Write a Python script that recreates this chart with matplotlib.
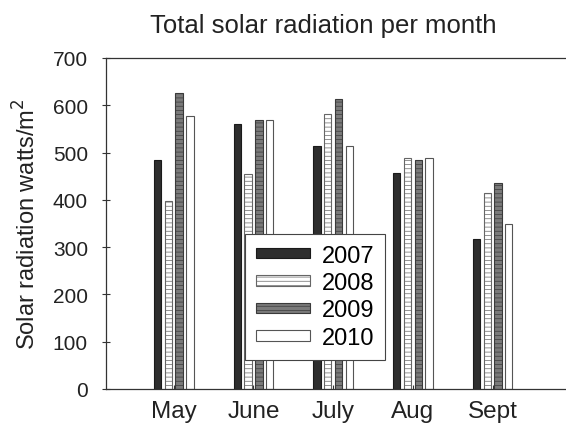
import matplotlib
matplotlib.use("Agg")
import matplotlib.pyplot as plt
import numpy as np

plt.rcParams['font.family'] = ['Liberation Sans', 'DejaVu Sans']
plt.rcParams['hatch.linewidth'] = 0.5

months = ["May", "June", "July", "Aug", "Sept"]
years = ["2007", "2008", "2009", "2010"]
r2007 = [484, 561, 513, 456, 317]
r2008 = [398, 455, 581, 488, 414]
r2009 = [627, 569, 614, 484, 435]
r2010 = [577, 569, 514, 488, 350]
yticks = [0, 100, 200, 300, 400, 500, 600, 700]

series = [r2007, r2008, r2009, r2010]
faces = ["#2e2e2e", "white", "#7a7a7a", "white"]
edges = ["#1a1a1a", "#666666", "#3a3a3a", "#555555"]
hatches = [None, "----", "----", None]

fig = plt.figure(figsize=(5.66, 4.27), dpi=100)
ax = fig.add_axes([106 / 566, 1 - 390 / 427, 460 / 566, 331 / 427])

x = np.arange(len(months))
pitch = 0.135
width = 0.092
for i, (vals, fc, ec, h) in enumerate(zip(series, faces, edges, hatches)):
    ax.bar(x + (i - 1.5) * pitch, vals, width, color=fc, edgecolor=ec,
           linewidth=0.8, hatch=h, label=years[i])

ax.set_xlim(-0.85, 4.92)
ax.set_ylim(0, 700)
ax.set_yticks(yticks)
ax.set_xticks(x)
ax.set_xticklabels(months, fontsize=17.5)
ax.tick_params(axis='y', labelsize=15, length=6, direction='inout', width=0.8,
               pad=10, colors='#333333', labelcolor='#222222')
ax.tick_params(axis='x', length=3, direction='in', width=0.8, pad=8,
               colors='#333333', labelcolor='#222222')
for s in ['left', 'bottom', 'top']:
    ax.spines[s].set_color('#333333')
    ax.spines[s].set_linewidth(0.9)
ax.spines['right'].set_visible(False)

ax.set_ylabel("Solar radiation watts/m$^2$", fontsize=17, color='#222222')
ax.yaxis.set_label_coords((41 - 106) / 460, 0.5)
fig.text(323 / 566, 1 - 26 / 427, "Total solar radiation per month", fontsize=18.5,
         ha='center', va='center', color='#222222')

leg = ax.legend(loc='upper left', bbox_to_anchor=((245 - 106) / 460, (390 - 235) / 331),
                fontsize=17, frameon=True, fancybox=False, handlelength=2.3,
                handleheight=0.3, labelspacing=0.23, borderpad=0.45, handletextpad=0.5,
                borderaxespad=0)
leg.get_frame().set_edgecolor('#444444')
leg.get_frame().set_linewidth(0.8)
leg.get_frame().set_alpha(1)

fig.savefig("out.png", dpi=100)
